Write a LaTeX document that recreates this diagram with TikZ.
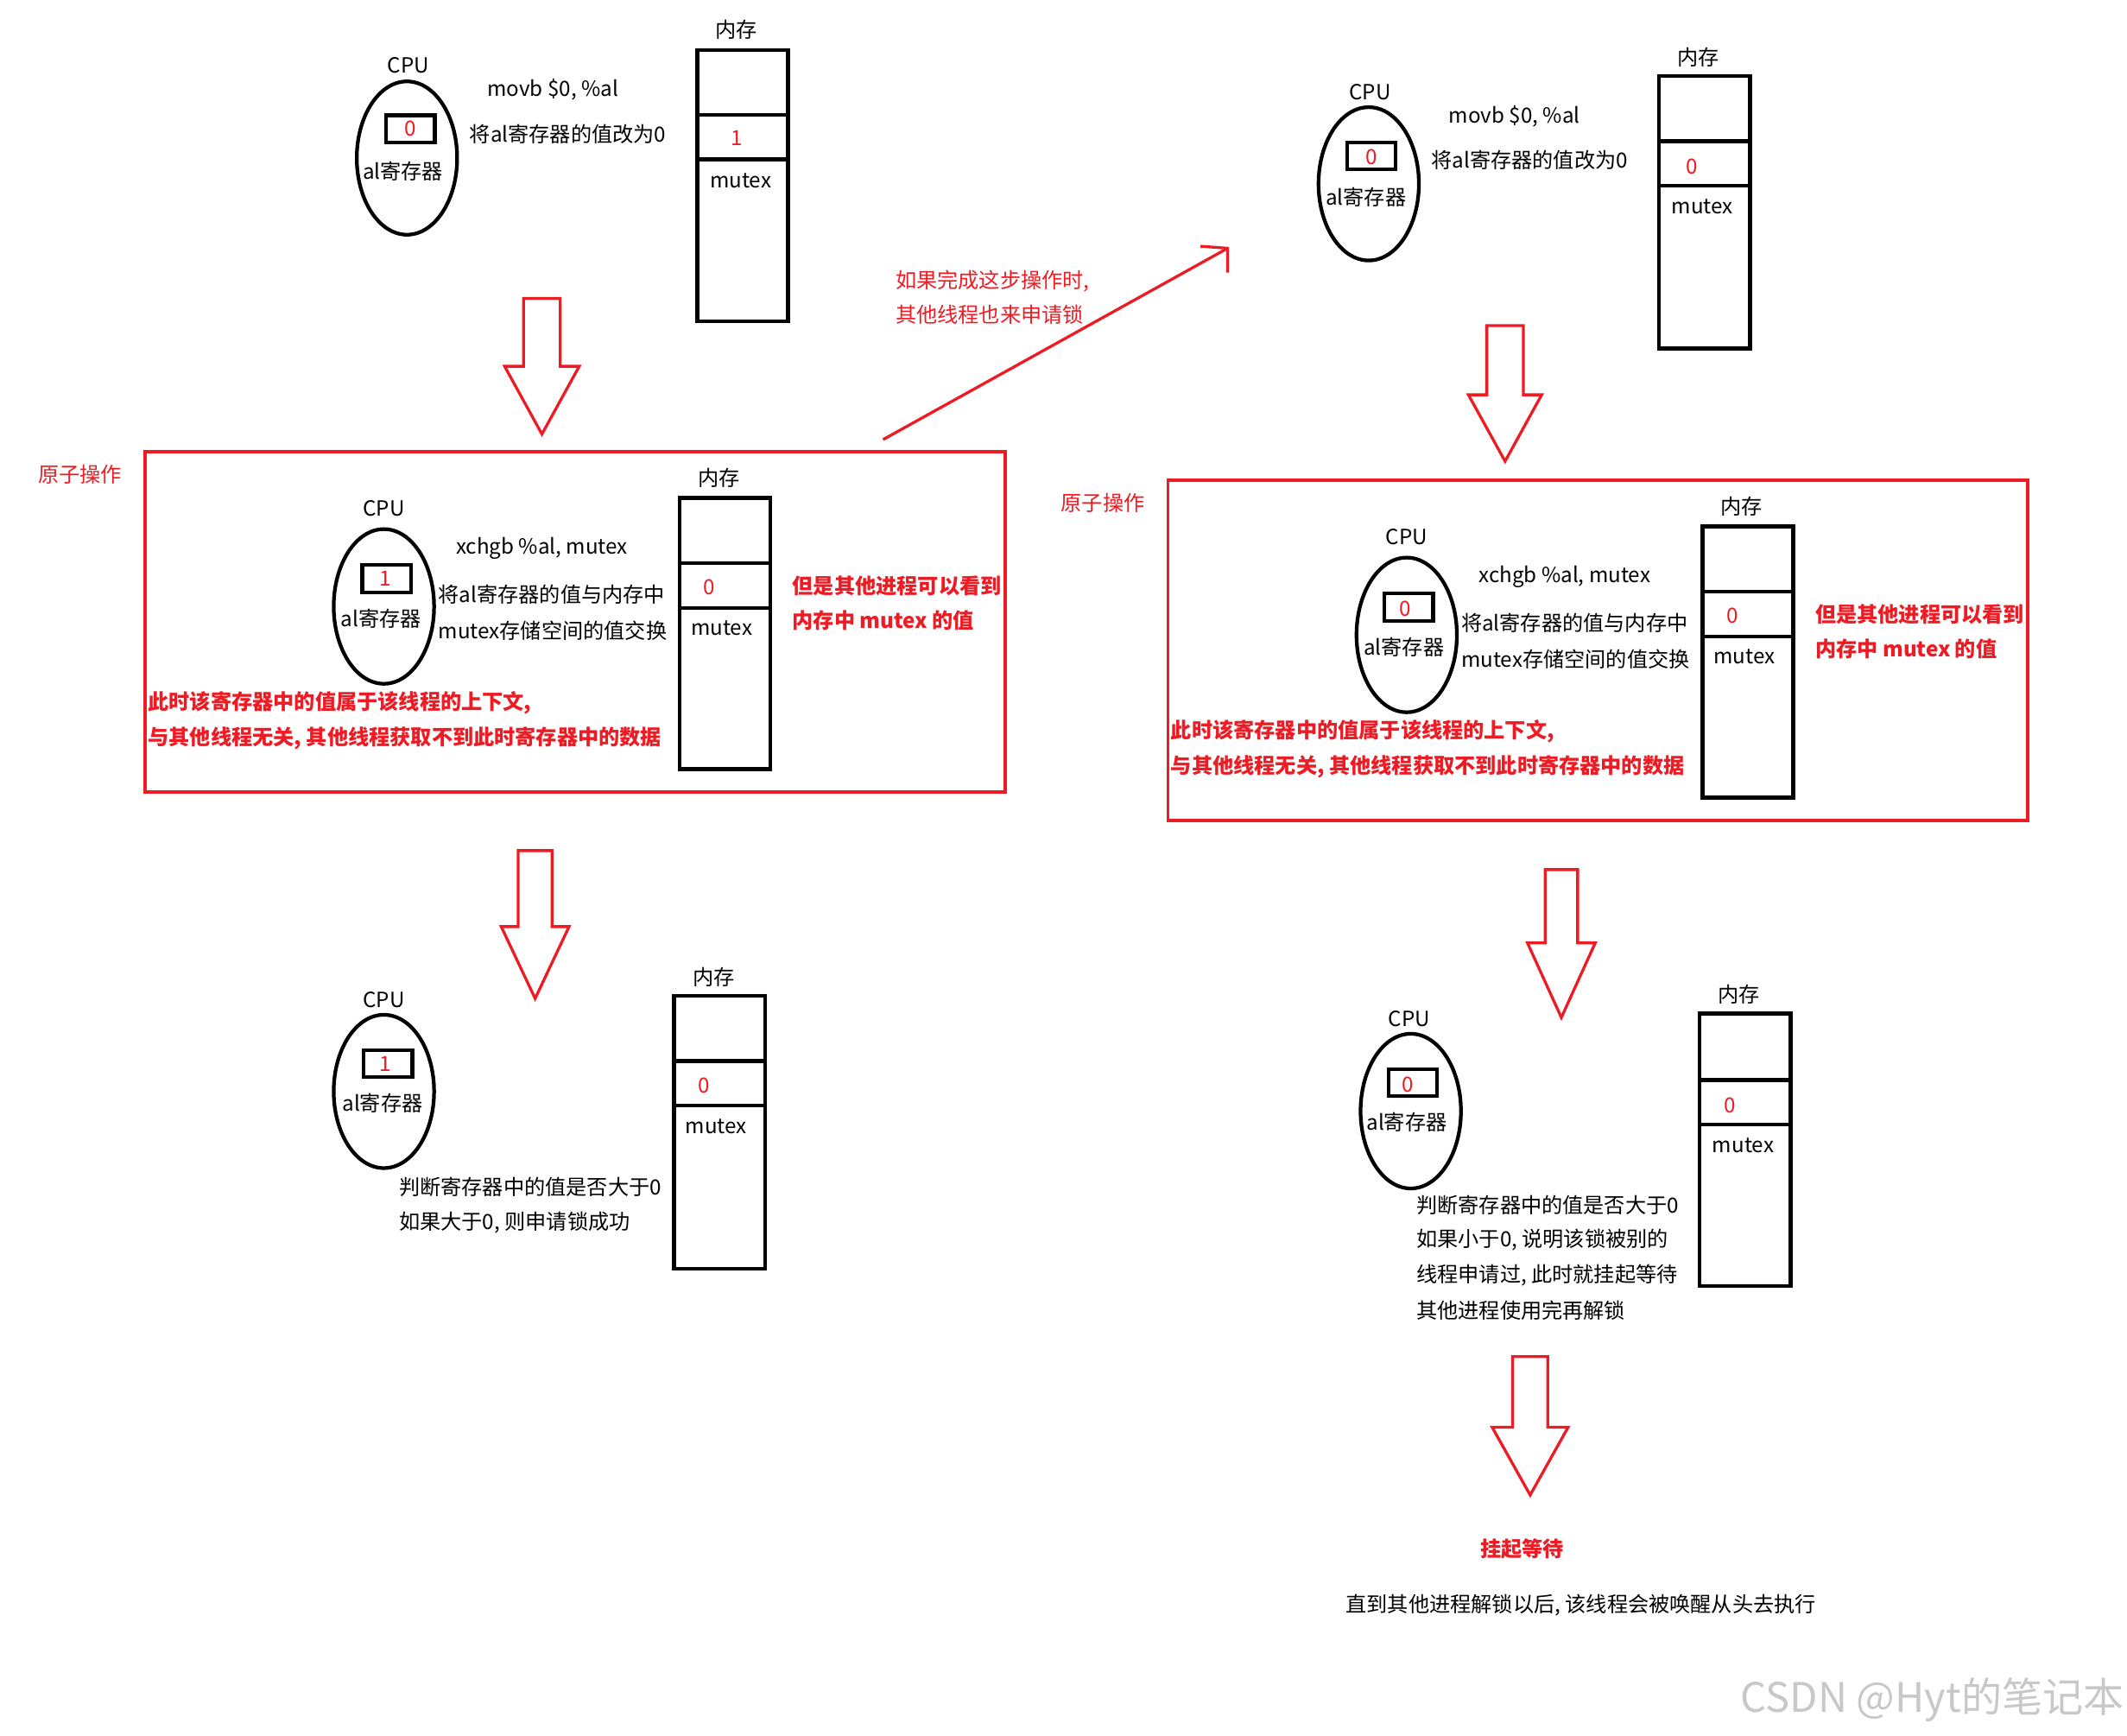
\documentclass[tikz,border=0pt]{standalone}
\usepackage{fontspec}
\setmainfont{Noto Sans CJK SC}
\usetikzlibrary{shapes.geometric}
\definecolor{pred}{HTML}{ED1C24}
\definecolor{wmark}{HTML}{C8C8C8}
\newcommand\harrow[6]{%
  \draw[hollow] ({#1-#5},#2) -- ({#1+#5},#2) -- ({#1+#5},#3) -- ({#1+#6},#3) -- (#1,#4)
    -- ({#1-#6},#3) -- ({#1-#5},#3) -- cycle;}
\begin{document}
\begin{tikzpicture}[x=1pt,y=-1pt,
  txt/.style={inner sep=0pt, font=\fontsize{15.4}{18}\selectfont},
  lt/.style={txt, anchor=west},
  rt/.style={lt, text=pred},
  rb/.style={lt, text=pred, font=\fontsize{15.4}{18}\selectfont\bfseries},
  cpu/.style={draw, ellipse, line width=2.7pt, minimum width=74pt, minimum height=113pt, inner sep=0pt},
  reg/.style={draw, line width=2.7pt, minimum width=36pt, minimum height=20pt, inner sep=0pt},
  mem/.style={draw, line width=2.8pt, minimum width=67pt, minimum height=200pt, inner sep=0pt},
  cell/.style={draw, line width=2.8pt, minimum width=67pt, minimum height=33pt, inner sep=0pt},
  atom/.style={draw=pred, line width=2.4pt, inner sep=0pt, minimum width=634pt, minimum height=251pt},
  hollow/.style={draw=pred, line width=2.1pt, line join=miter},
  val/.style={txt, text=pred}
]
\useasboundingbox (0,0) rectangle (1568,1279);

% ---------- Panel 1 (top left) ----------
\node[txt] (cpu1t) at (301,48) {CPU};
\node[cpu] (cpu1) at (300,116.5) {};
\node[reg] (reg1) at (302.5,95) {};
\node[val] (reg1v) at (302.5,95) {0};
\node[txt] (al1) at (297,126) {al寄存器};
\node[lt] (ins1) at (359,66) {movb \$0, \%al};
\node[lt] (exp1) at (346,99) {将al寄存器的值改为0};
\node[txt] (mem1t) at (543,22) {内存};
\node[mem] (mem1) at (547.5,137) {};
\node[cell] (cell1) at (547.5,101) {};
\node[val] (cell1v) at (543,102) {1};
\node[txt] (mx1) at (546,133) {mutex};

\harrow{399.5}{220}{270}{320}{13.5}{27.5}

% ---------- Panel 2 (atomic, left) ----------
\node[atom] (box1) at (424,458.5) {};
\node[rt] (atl1) at (28,350) {原子操作};
\node[txt] (cpu2t) at (283,375) {CPU};
\node[cpu, minimum height=114pt] (cpu2) at (283,447) {};
\node[reg] (reg2) at (285,426.5) {};
\node[val] (reg2v) at (284,426.5) {1};
\node[txt] (al2) at (281,456) {al寄存器};
\node[lt] (ins2) at (336,404) {xchgb \%al, mutex};
\node[lt] (exp2a) at (323,438) {将al寄存器的值与内存中};
\node[lt] (exp2b) at (323,465) {mutex存储空间的值交换};
\node[txt] (mem2t) at (530,352) {内存};
\node[mem] (mem2) at (534.5,467) {};
\node[cell] (cell2) at (534.5,431.5) {};
\node[val] (cell2v) at (523,433) {0};
\node[txt] (mx2) at (532,463) {mutex};
\node[rb] (see2a) at (584,432) {但是其他进程可以看到};
\node[rb] (see2b) at (584,457) {内存中 mutex 的值};
\node[rb] (ctx2a) at (109,518) {此时该寄存器中的值属于该线程的上下文,};
\node[rb] (ctx2b) at (109,544) {与其他线程无关, 其他线程获取不到此时寄存器中的数据};

% diagonal arrow
\coordinate (d1) at (651,324);
\coordinate (d2) at (905,183);
\coordinate (d3) at (885,181.5);
\coordinate (d4) at (905,201);
\draw[pred, line width=2.1pt] (d1) -- (d2);
\draw[pred, line width=2.1pt] (d3) -- (d2) -- (d4);
\node[rt] (oth1) at (660,207) {如果完成这步操作时,};
\node[rt] (oth2) at (660,232) {其他线程也来申请锁};

\harrow{394.5}{627}{683}{736}{12.5}{25}

% ---------- Panel 3 (bottom left) ----------
\node[txt] (cpu3t) at (283,737) {CPU};
\node[cpu] (cpu3) at (283,804.5) {};
\node[reg] (reg3) at (286,784) {};
\node[val] (reg3v) at (284,784.5) {1};
\node[txt] (al3) at (282,813) {al寄存器};
\node[txt] (mem3t) at (526,720) {内存};
\node[mem, minimum height=201pt] (mem3) at (530.5,834.5) {};
\node[cell] (cell3) at (530.5,798.5) {};
\node[val] (cell3v) at (519,800) {0};
\node[txt] (mx3) at (528,830) {mutex};
\node[lt] (jd3a) at (294,875) {判断寄存器中的值是否大于0};
\node[lt] (jd3b) at (294,901) {如果大于0, 则申请锁成功};

% ---------- Panel 4 (top right) ----------
\node[txt] (cpu4t) at (1010,68) {CPU};
\node[cpu] (cpu4) at (1009,135.5) {};
\node[reg] (reg4) at (1011,115) {};
\node[val] (reg4v) at (1011,115.5) {0};
\node[txt] (al4) at (1007,145) {al寄存器};
\node[lt] (ins4) at (1068,86) {movb \$0, \%al};
\node[lt] (exp4) at (1055,118) {将al寄存器的值改为0};
\node[txt] (mem4t) at (1252,42) {内存};
\node[mem, minimum height=201pt] (mem4) at (1256.5,156.5) {};
\node[cell] (cell4) at (1256.5,120.5) {};
\node[val] (cell4v) at (1247,123) {0};
\node[txt] (mx4) at (1255,152) {mutex};

\harrow{1109.5}{240}{291}{340}{13.5}{27}

% ---------- Panel 5 (atomic, right) ----------
\node[atom] (box2) at (1178,479.5) {};
\node[rt] (atl2) at (782,371) {原子操作};
\node[txt] (cpu5t) at (1037,396) {CPU};
\node[cpu, minimum height=114pt] (cpu5) at (1037,468) {};
\node[reg] (reg5) at (1038.5,447.5) {};
\node[val] (reg5v) at (1036,449) {0};
\node[txt] (al5) at (1035,477) {al寄存器};
\node[lt] (ins5) at (1090,425) {xchgb \%al, mutex};
\node[lt] (exp5a) at (1077,459) {将al寄存器的值与内存中};
\node[lt] (exp5b) at (1077,486) {mutex存储空间的值交换};
\node[txt] (mem5t) at (1284,373) {内存};
\node[mem] (mem5) at (1288.5,488) {};
\node[cell] (cell5) at (1288.5,452.5) {};
\node[val] (cell5v) at (1277,454) {0};
\node[txt] (mx5) at (1286,484) {mutex};
\node[rb] (see5a) at (1338,453) {但是其他进程可以看到};
\node[rb] (see5b) at (1338,478) {内存中 mutex 的值};
\node[rb] (ctx5a) at (863,539) {此时该寄存器中的值属于该线程的上下文,};
\node[rb] (ctx5b) at (863,565) {与其他线程无关, 其他线程获取不到此时寄存器中的数据};

\harrow{1151}{641}{695}{750}{12}{25}

% ---------- Panel 6 (bottom right) ----------
\node[txt] (cpu6t) at (1039,751) {CPU};
\node[cpu, minimum height=114pt] (cpu6) at (1040,819) {};
\node[reg] (reg6) at (1041.5,798) {};
\node[val] (reg6v) at (1038,799.5) {0};
\node[txt] (al6) at (1037,827) {al寄存器};
\node[txt] (mem6t) at (1282,733) {内存};
\node[mem, minimum height=201pt] (mem6) at (1286.5,847.5) {};
\node[cell] (cell6) at (1286.5,812.5) {};
\node[val] (cell6v) at (1275,815) {0};
\node[txt] (mx6) at (1285,844) {mutex};
\node[lt] (jd6a) at (1044,888) {判断寄存器中的值是否大于0};
\node[lt] (jd6b) at (1044,914) {如果小于0, 说明该锁被别的};
\node[lt] (jd6c) at (1044,940) {线程申请过, 此时就挂起等待};
\node[lt] (jd6d) at (1044,966) {其他进程使用完再解锁};

\harrow{1128}{1000}{1052}{1102}{13}{28}

\node[txt, text=pred, font=\fontsize{15.4}{18}\selectfont\bfseries] (wait) at (1122,1142) {挂起等待};
\node[txt] (wake) at (1165.5,1183) {直到其他进程解锁以后, 该线程会被唤醒从头去执行};

% watermark
\node[txt, text=wmark, font=\fontsize{30}{33}\selectfont, anchor=east] (wm) at (1566,1253) {CSDN @Hyt的笔记本};
\end{tikzpicture}
\end{document}
